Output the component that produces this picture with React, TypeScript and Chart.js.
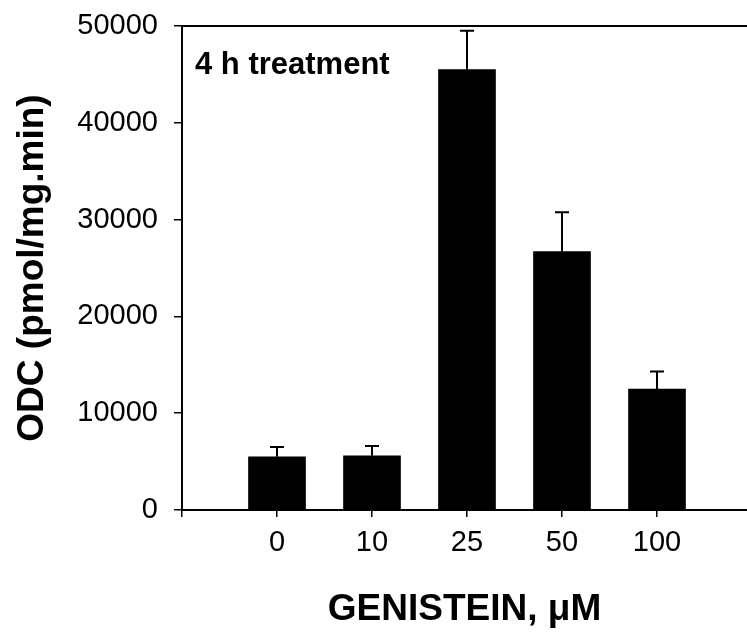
import React, { useEffect, useRef } from "react";
import { Chart, registerables } from "chart.js";

Chart.register(...registerables);

const categories = ["0", "10", "25", "50", "100"];
const odcMeans = [5500, 5600, 45500, 26700, 12500];
const odcUpper = [6500, 6600, 49500, 30750, 14300];
const yTicks = [0, 10000, 20000, 30000, 40000, 50000];

const FONT = "'Liberation Sans', Arial, sans-serif";

const errorBarPlugin = {
  id: "errorBars",
  afterDatasetsDraw(chart: any) {
    const { ctx, scales } = chart;
    const xs = scales.x;
    const ys = scales.y;
    ctx.save();
    ctx.strokeStyle = "#000";
    ctx.lineWidth = 2;
    odcMeans.forEach((v, i) => {
      const x = xs.getPixelForValue(i + 1);
      const y0 = ys.getPixelForValue(v);
      const y1 = ys.getPixelForValue(odcUpper[i]);
      ctx.beginPath();
      ctx.moveTo(x, y0);
      ctx.lineTo(x, y1);
      ctx.moveTo(x - 7, y1);
      ctx.lineTo(x + 7, y1);
      ctx.stroke();
    });
    ctx.restore();
  },
};

const framePlugin = {
  id: "frameAndNote",
  afterDraw(chart: any) {
    const { ctx, chartArea } = chart;
    ctx.save();
    ctx.strokeStyle = "#000";
    ctx.lineWidth = 2;
    ctx.beginPath();
    ctx.moveTo(chartArea.left, chartArea.top);
    ctx.lineTo(chartArea.right, chartArea.top);
    ctx.stroke();
    ctx.fillStyle = "#000";
    ctx.font = `bold 31px ${FONT}`;
    ctx.textAlign = "left";
    ctx.textBaseline = "alphabetic";
    ctx.fillText("4 h treatment", chartArea.left + 13, 74);
    ctx.restore();
  },
};

export default function App() {
  const ref = useRef<HTMLCanvasElement | null>(null);

  useEffect(() => {
    if (!ref.current) return;
    const chart = new Chart(ref.current, {
      type: "bar",
      data: {
        datasets: [
          {
            data: odcMeans.map((v, i) => ({ x: i + 1, y: v })),
            backgroundColor: "#000",
            borderWidth: 0,
            barThickness: 57,
          },
        ],
      },
      options: {
        responsive: false,
        animation: false,
        devicePixelRatio: 1,
        layout: { padding: { top: 26, right: 0, left: 0, bottom: 0 } },
        plugins: {
          legend: { display: false },
          tooltip: { enabled: false },
        },
        scales: {
          x: {
            type: "linear",
            offset: false,
            min: 0,
            max: 565 / 95,
            afterBuildTicks: (scale: any) => {
              scale.ticks = [0, 1, 2, 3, 4, 5].map((v) => ({ value: v }));
            },
            afterFit: (scale: any) => {
              scale.height = 124;
              scale.paddingLeft = 0;
              scale.paddingRight = 0;
            },
            ticks: {
              autoSkip: false,
              maxRotation: 0,
              color: "#000",
              padding: 9,
              font: { family: FONT, size: 29 },
              callback: (v: any) => (v >= 1 && v <= categories.length ? categories[v - 1] : ""),
            },
            grid: {
              display: true,
              offset: false,
              drawOnChartArea: false,
              drawTicks: true,
              tickLength: 7,
              color: "#000",
              lineWidth: 1.5,
            },
            border: { display: true, color: "#000", width: 2 },
            title: {
              display: true,
              text: "GENISTEIN, μM",
              color: "#000",
              font: { family: FONT, size: 37, weight: "bold" },
              padding: { top: 0, bottom: 2 },
            },
          },
          y: {
            type: "linear",
            min: 0,
            max: 50000,
            afterBuildTicks: (scale: any) => {
              scale.ticks = yTicks.map((v) => ({ value: v }));
            },
            afterFit: (scale: any) => {
              scale.width = 182;
              scale.paddingTop = 0;
              scale.paddingBottom = 0;
            },
            ticks: {
              color: "#000",
              padding: 16,
              font: { family: FONT, size: 29 },
              callback: (v: any) => String(v),
            },
            grid: {
              display: true,
              drawOnChartArea: false,
              drawTicks: true,
              tickLength: 8,
              color: "#000",
              lineWidth: 1.5,
            },
            border: { display: true, color: "#000", width: 2 },
            title: {
              display: true,
              text: "ODC (pmol/mg.min)",
              color: "#000",
              font: { family: FONT, size: 37, weight: "bold" },
              padding: { top: 11, bottom: 0 },
            },
          },
        },
      },
      plugins: [errorBarPlugin, framePlugin],
    });
    return () => chart.destroy();
  }, []);

  return (
    <div style={{ position: "absolute", left: 0, top: 0, width: 747, height: 634, background: "#fff" }}>
      <canvas ref={ref} width={747} height={634} />
    </div>
  );
}
